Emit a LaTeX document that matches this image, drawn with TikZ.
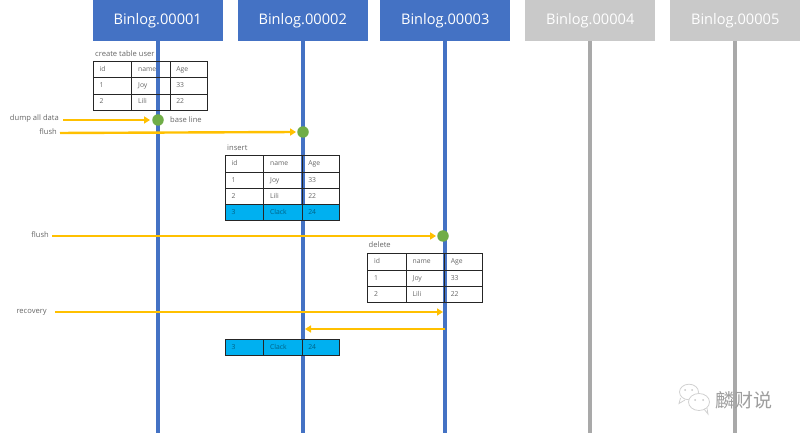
\documentclass[tikz,border=0pt]{standalone}
\usepackage{fontspec}
\setmainfont{Open Sans}
\newfontfamily\cjk{Noto Sans CJK SC}
\usetikzlibrary{arrows.meta}
\definecolor{boxblue}{HTML}{4472C4}
\definecolor{boxgray}{HTML}{C9C9C9}
\definecolor{linegray}{HTML}{A9A9A9}
\definecolor{amber}{HTML}{FFC000}
\definecolor{dotgreen}{HTML}{70AD47}
\definecolor{rowblue}{HTML}{00B0F0}
\definecolor{txt}{HTML}{666666}
\tikzset{
  header/.style={minimum width=130,minimum height=41,inner sep=0,text=white,font=\fontsize{14.6}{15}\selectfont,anchor=south west},
  bluehead/.style={header,fill=boxblue},
  grayhead/.style={header,fill=boxgray},
  bluelife/.style={draw=boxblue,line width=3.4},
  graylife/.style={draw=linegray,line width=3.4},
  cell/.style={draw=black!85,line width=.9,minimum height=16.3,inner sep=0,anchor=north west,text=txt,font=\fontsize{6.8}{7}\selectfont,align=left,text height=5,text depth=1.5,text width=25},
  cella/.style={cell,minimum width=38.5},
  cellc/.style={cell,minimum width=37.6},
  hot/.style={fill=rowblue,text=black!45!rowblue},
  note/.style={inner sep=0,text=txt,font=\fontsize{7.6}{8}\selectfont},
  flow/.style={draw=amber,line width=2.4,-{Triangle[length=6,width=7]}},
  dot/.style={circle,fill=dotgreen,minimum size=11.5,inner sep=0},
  wechat/.style={draw=black!18,line width=.8,fill=white},
}
\newcommand{\tblrow}[7][]{%
  \node[cella,#1] (#2a) at (#3,#4) {#5};
  \node[cella,#1] (#2b) at (#3+38.5,#4) {#6};
  \node[cellc,#1] (#2c) at (#3+77,#4) {#7};
}
\begin{document}
\begin{tikzpicture}[x=1pt,y=-1pt]
\useasboundingbox (0,0) rectangle (800,435);
% headers
\node[bluehead] (b1) at (92.5,41) {Binlog.00001};
\node[bluehead] (b2) at (237.5,41) {Binlog.00002};
\node[bluehead] (b3) at (380,41) {Binlog.00003};
\node[grayhead] (b4) at (525,41) {Binlog.00004};
\node[grayhead] (b5) at (670,41) {Binlog.00005};
% life lines
\coordinate (e1) at (158,433);
\coordinate (e2) at (303,433);
\coordinate (e3) at (445,433);
\coordinate (e4) at (590,433);
\coordinate (e5) at (735,433);
\draw[bluelife] (158,41) -- (e1);
\draw[bluelife] (303,41) -- (e2);
\draw[bluelife] (445,41) -- (e3);
\draw[graylife] (590,41) -- (e4);
\draw[graylife] (735,41) -- (e5);
% table 1
\node[note,anchor=west] (t1) at (95,54) {create table user};
\tblrow{ta}{92.5}{61}{id}{name}{Age}
\tblrow{tb}{92.5}{77.3}{1}{Joy}{33}
\tblrow{tc}{92.5}{93.6}{2}{Lili}{22}
% table 2
\node[note,anchor=west] (t2) at (227,148) {insert};
\tblrow{ua}{224.5}{155.5}{id}{name}{Age}
\tblrow{ub}{224.5}{171.8}{1}{Joy}{33}
\tblrow{uc}{224.5}{188}{2}{Lili}{22}
\tblrow[hot]{ud}{224.5}{204}{3}{Clack}{24}
% table 3
\node[note,anchor=west] (t3) at (368.5,245) {delete};
\tblrow{va}{367}{253.5}{id}{name}{Age}
\tblrow{vb}{367}{269.8}{1}{Joy}{33}
\tblrow{vc}{367}{286}{2}{Lili}{22}
% recovered row
\tblrow[hot]{wa}{224.5}{339}{3}{Clack}{24}
% dots
\node[dot] (d1) at (158,120) {};
\node[dot] (d2) at (303,132) {};
\node[dot] (d3) at (443,236) {};
% labels
\node[note,anchor=east] (l1) at (59,119) {dump all data};
\node[note,anchor=west] (l1b) at (170,120) {base line};
\node[note,anchor=east] (l2) at (57,132) {flush};
\node[note,anchor=east] (l3) at (49,234.5) {flush};
\node[note,anchor=east] (l4) at (47,312) {recovery};
% arrows
\coordinate (r1) at (443,312);
\coordinate (r2) at (445,329);
\coordinate (r3) at (305,329);
\draw[flow,shorten <=4,shorten >=2] (l1.east |- d1) -- (d1.west);
\draw[flow,shorten <=3,shorten >=1] (l2.east) ++(0,1) -- (d2.west);
\draw[flow,shorten <=3,shorten >=1] (l3.east) ++(0,1.5) -- (d3.west);
\draw[flow,shorten <=8] (l4.east) -- (r1);
\draw[flow] (r2) -- (r3);
% watermark
\draw[wechat] (689,392) ellipse (9.5 and 7.8);
\draw[wechat] (680.5,398) -- (679,403.5) -- (685,400);
\draw[wechat] (699,402) ellipse (10.5 and 8.5);
\draw[wechat,fill=none] (704,409) -- (708,414) -- (707,408);
\fill[black!22] (685,390) circle (1) (692,390) circle (1) (695,400) circle (1) (703,400) circle (1);
\node[inner sep=0,anchor=west,text=black!38,font=\cjk\fontsize{19}{19}\selectfont] (wm) at (715,400.5) {麟财说};
\end{tikzpicture}
\end{document}
